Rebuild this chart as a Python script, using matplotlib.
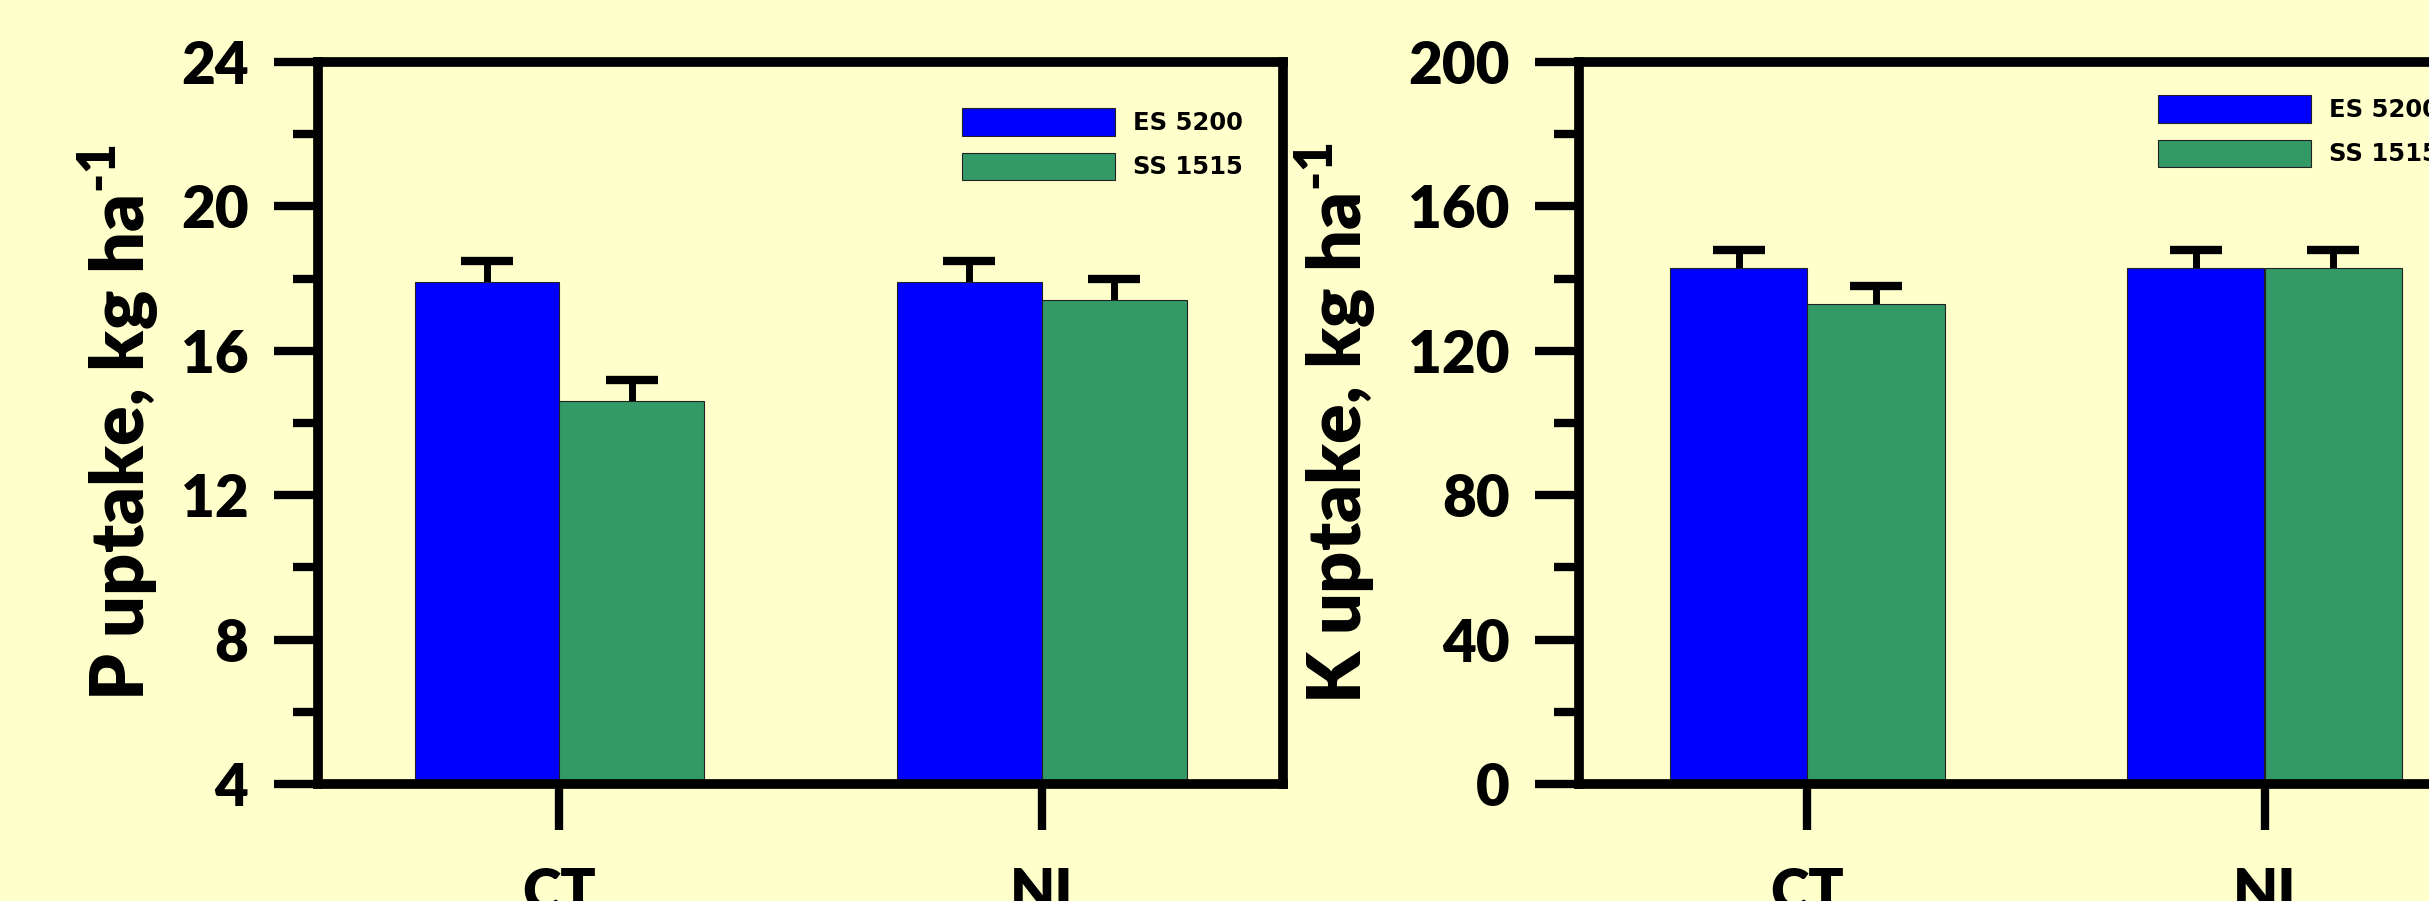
import numpy as np
import matplotlib.pyplot as plt
from matplotlib.ticker import MultipleLocator

# data
categories = ['CT', 'NI']
series = ['ES 5200', 'SS 1515']
p_es = [17.9, 17.9]
p_ss = [14.6, 17.4]
p_es_err = [0.6, 0.6]
p_ss_err = [0.6, 0.6]
k_es = [143, 143]
k_ss = [133, 143]
k_es_err = [5, 5]
k_ss_err = [5, 5]

bg = '#FFFFCC'
c_es = '#0000FF'
c_ss = '#339966'

plt.rcParams['font.family'] = ['Lato', 'DejaVu Sans']
plt.rcParams['font.weight'] = 'heavy'
plt.rcParams['mathtext.fontset'] = 'custom'
plt.rcParams['mathtext.rm'] = 'Lato:heavy'
plt.rcParams['mathtext.bf'] = 'Lato:heavy'

W, H = 2429, 901
fig = plt.figure(figsize=(W / 100, H / 100), dpi=100, facecolor=bg)
axP = fig.add_axes([318 / W, 1 - 784 / H, 965 / W, 722 / H])
axK = fig.add_axes([1579 / W, 1 - 784 / H, 914 / W, 722 / H])


def panel(ax, es, ss, es_err, ss_err, ylim, major, minor, ylabel, label_x, leg_xy):
    x = np.arange(len(categories))
    w = 0.3
    ax.set_facecolor(bg)
    ax.bar(x - w / 2, es, w, color=c_es, edgecolor='#222222', linewidth=0.8,
           label=series[0], zorder=1)
    ax.bar(x + w / 2, ss, w, color=c_ss, edgecolor='#222222', linewidth=0.8,
           label=series[1], zorder=1)
    # lower half of the error bar sits behind the bar
    ax.errorbar(x - w / 2, es, yerr=es_err, fmt='none', ecolor='black',
                elinewidth=5, capsize=19, capthick=6, zorder=0.9)
    ax.errorbar(x + w / 2, ss, yerr=ss_err, fmt='none', ecolor='black',
                elinewidth=5, capsize=19, capthick=6, zorder=0.9)

    ax.set_xlim(-0.5, 1.5)
    ax.set_ylim(*ylim)
    ax.set_xticks(x)
    ax.set_xticklabels(categories)
    ax.yaxis.set_major_locator(MultipleLocator(major))
    ax.yaxis.set_minor_locator(MultipleLocator(minor))

    for s in ax.spines.values():
        s.set_linewidth(7)
    ax.tick_params(axis='y', which='major', direction='out', length=32, width=6,
                   pad=18, labelsize=42)
    ax.tick_params(axis='y', which='minor', direction='out', length=18, width=6)
    ax.tick_params(axis='x', which='major', direction='out', length=33, width=6,
                   pad=27, labelsize=42)
    ax.tick_params(top=False, right=False, which='both')

    ax.set_ylabel(ylabel, fontsize=53, fontweight='heavy')
    ax.yaxis.set_label_coords(label_x, 0.5)

    ax.legend(loc='upper left', bbox_to_anchor=leg_xy, frameon=False,
              prop={'family': 'DejaVu Sans', 'weight': 'bold', 'size': 17.5},
              handlelength=6.3, handleheight=1.36, labelspacing=0.7,
              handletextpad=0.75, borderpad=0, borderaxespad=0)


panel(axP, p_es, p_ss, p_es_err, p_ss_err, (4, 24), 4, 2,
      r'P uptake, kg ha$^{\text{-1}}$', -0.162, (0.667, 0.936))
panel(axK, k_es, k_ss, k_es_err, k_ss_err, (0, 200), 40, 20,
      r'K uptake, kg ha$^{\text{-1}}$', -0.219, (0.633, 0.954))

fig.savefig('out.png', dpi=100, facecolor=bg)
